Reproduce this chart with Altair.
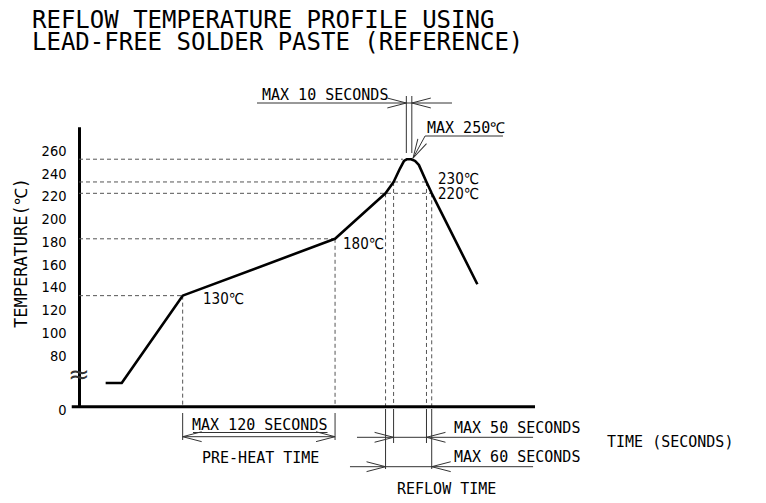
import altair as alt
import pandas as pd

# ---------------- values ----------------
# reflow profile: time (s, arbitrary origin) and temperature (deg C)
profile_time = [20.9, 33.5, 81.3, 200.8, 240.4, 246.7, 251.8, 254.9, 257.3, 260.4, 263.5, 266.5, 272.5, 276.6, 312.4]
profile_temp = [35, 35, 130, 180, 220, 230, 242, 248.5, 250, 250, 248.5, 245, 230, 220, 140]

# dashed reference levels and the time at which each stops
level_temp = [250, 230, 220, 180, 130]
level_end = [254.0, 272.5, 276.6, 200.8, 81.3]

# dashed drop lines from the profile down to the time axis
drop_time = [81.3, 200.8, 240.4, 246.7, 272.5, 276.6]
drop_temp = [130, 180, 220, 230, 230, 220]

y_ticks = [0, 80, 100, 120, 140, 160, 180, 200, 220, 240, 260]
time_min, time_max = -5.7, 357.6
temp_top = 278.6

point_labels = ["130℃", "180℃", "230℃", "220℃"]

# ---------------- layout ----------------
W, H = 456, 280
OX, OY = 79, 126.7          # page position of the plot origin

T = alt.Scale(domain=[0, time_max], nice=False, zero=False)
Y = alt.Scale(domain=[0, 80, temp_top], range=[H, 352.5 - OY, 0], nice=False, zero=False)

DIM = "#333333"
GUIDE = "#555555"
MONO = "DejaVu Sans Mono"
NARROW = "DejaVu Sans Condensed, sans-serif"

# dimension / extension / leader lines: time x, page y
dims = [
    (81.3, 81.3, 413, 440), (200.8, 200.8, 413, 440),
    (240.4, 240.4, 409, 469), (246.7, 246.7, 409, 443),
    (272.5, 272.5, 409, 443), (276.6, 276.6, 409, 469),
    (256.7, 256.7, 96, 153), (261.0, 261.0, 96, 153),
    (81.3, 200.8, 436.7, 436.7),
    (218.0, 356.1, 437.3, 437.3),
    (212.5, 356.1, 466.7, 466.7),
    (139.6, 292.5, 103, 103),
    (89.4, 194.9, 432.5, 432.5),
    (271.4, 332.5, 136, 136),
    (271.4, 262.0, 136, 158),
]
dims_df = pd.DataFrame(dims, columns=["t1", "t2", "y1", "y2"])
dims_df["y1"] -= OY
dims_df["y2"] -= OY

arrows = [(81.3, 436.7, 180), (200.8, 436.7, 0), (246.7, 437.3, 0), (272.5, 437.3, 180),
          (240.4, 466.7, 0), (276.6, 466.7, 180), (256.7, 103, 0), (261.0, 103, 180),
          (262.0, 158, 118.6)]
arr_df = pd.DataFrame(arrows, columns=["t", "y", "ang"])
arr_df["y"] -= OY

texts = [
    ("REFLOW TEMPERATURE PROFILE USING", 32, 28, 24),
    ("LEAD-FREE SOLDER PASTE (REFERENCE)", 32, 50, 24),
    ("MAX 10 SECONDS", 262, 100, 15),
    ("MAX 250℃", 427, 133, 15),
    ("MAX 120 SECONDS", 192, 430, 15),
    ("PRE-HEAT TIME", 202, 463, 15),
    ("MAX 50 SECONDS", 454, 433, 15),
    ("MAX 60 SECONDS", 454, 462, 15),
    ("REFLOW TIME", 397, 494, 15),
    ("TIME (SECONDS)", 607, 447, 15),
]
txt_df = pd.DataFrame(texts, columns=["label", "x", "y", "fs"])
txt_df["x"] -= OX
txt_df["y"] -= OY

lab_pos = [(203, 304), (343, 249), (438, 183.5), (438, 198.5)]
lab_df = pd.DataFrame({"label": point_labels,
                       "x": [p[0] - OX for p in lab_pos],
                       "y": [p[1] - OY for p in lab_pos]})

ylab_df = pd.DataFrame({"label": ["TEMPERATURE(℃)"], "x": [27 - OX], "y": [253 - OY]})
brk_df = pd.DataFrame({"label": ["≈"], "x": [79 - OX], "y": [375 - OY]})

# ---------------- layers ----------------
levels = alt.Chart(pd.DataFrame({"t0": [0.0] * len(level_temp), "t1": level_end, "temp": level_temp})).mark_rule(
    color=GUIDE, strokeDash=[4, 3], strokeWidth=1
).encode(
    x=alt.X("t0:Q", scale=T, axis=None),
    x2="t1:Q",
    y=alt.Y("temp:Q", scale=Y, title=None,
            axis=alt.Axis(values=y_ticks, format="d", grid=False, ticks=False, tickSize=0,
                          domainWidth=3, domainColor="black", labelColor="black",
                          labelFont=NARROW, labelFontSize=14.5, labelPadding=13, labelOffset=3.5)),
)

drops = alt.Chart(pd.DataFrame({"t": drop_time, "temp": drop_temp, "base": [0] * len(drop_time)})).mark_rule(
    color=GUIDE, strokeDash=[4, 3], strokeWidth=1
).encode(
    x=alt.X("t:Q", scale=T, axis=None),
    y=alt.Y("temp:Q", scale=Y, axis=None),
    y2="base:Q",
)

xaxis = alt.Chart(pd.DataFrame({"a": [time_min], "b": [time_max], "temp": [0]})).mark_rule(
    color="black", strokeWidth=3
).encode(
    x=alt.X("a:Q", scale=T, axis=None), x2="b:Q",
    y=alt.Y("temp:Q", scale=Y, axis=None),
)

curve = alt.Chart(pd.DataFrame({"t": profile_time, "temp": profile_temp})).mark_line(
    color="black", strokeWidth=2.6, strokeJoin="round"
).encode(
    x=alt.X("t:Q", scale=T, axis=None),
    y=alt.Y("temp:Q", scale=Y, axis=None),
    order=alt.Order("t:Q"),
)

dim_lines = alt.Chart(dims_df).mark_rule(color=DIM, strokeWidth=1).encode(
    x=alt.X("t1:Q", scale=T, axis=None), x2="t2:Q",
    y=alt.Y("y1:Q", scale=None, axis=None), y2="y2:Q",
)

arrow_heads = alt.Chart(arr_df).mark_point(
    shape="M -1 -0.26 L 0 0 L -1 0.26", filled=False, color=DIM, strokeWidth=1, size=1444, opacity=1
).encode(
    x=alt.X("t:Q", scale=T, axis=None),
    y=alt.Y("y:Q", scale=None, axis=None),
    angle=alt.Angle("ang:Q", scale=None),
)

labels = alt.Chart(txt_df).mark_text(font=MONO, align="left", baseline="alphabetic", color="black").encode(
    x=alt.X("x:Q", scale=None, axis=None),
    y=alt.Y("y:Q", scale=None, axis=None),
    text="label:N",
    size=alt.Size("fs:Q", scale=None, legend=None),
)

pt_labels = alt.Chart(lab_df).mark_text(font=NARROW, fontSize=15, align="left", baseline="alphabetic", color="black").encode(
    x=alt.X("x:Q", scale=None, axis=None),
    y=alt.Y("y:Q", scale=None, axis=None),
    text="label:N",
)

ylabel = alt.Chart(ylab_df).mark_text(font=MONO, fontSize=17, align="center", baseline="alphabetic",
                                       angle=270, color="black").encode(
    x=alt.X("x:Q", scale=None, axis=None),
    y=alt.Y("y:Q", scale=None, axis=None),
    text="label:N",
)

brk = alt.Chart(brk_df).mark_text(font="DejaVu Sans", fontSize=26, align="center", baseline="middle",
                                   color=DIM).encode(
    x=alt.X("x:Q", scale=None, axis=None),
    y=alt.Y("y:Q", scale=None, axis=None),
    text="label:N",
)

chart = alt.layer(levels, drops, xaxis, curve, dim_lines, arrow_heads, labels, pt_labels, ylabel, brk).resolve_scale(
    x="independent", y="independent"
).properties(
    width=W, height=H,
    padding={"left": 71, "top": 118.7, "right": 223, "bottom": 88.3},
    autosize=alt.AutoSizeParams(type="none"),
    background="white",
).configure_view(stroke=None)

chart.save("out.html", embed_options={"renderer": "svg", "actions": False})
